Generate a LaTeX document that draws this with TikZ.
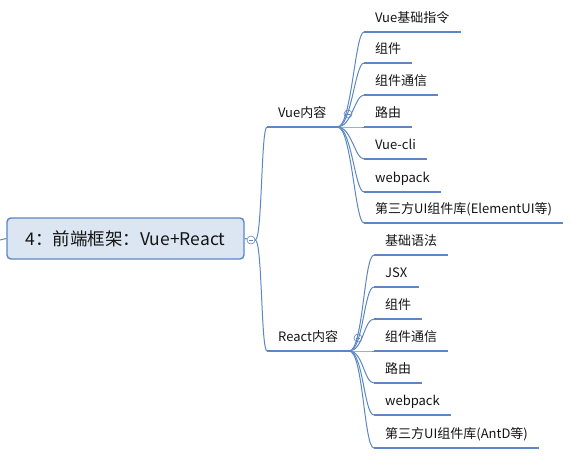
\documentclass[tikz,border=0pt]{standalone}
\usepackage{fontspec}
\setmainfont{Noto Sans CJK SC}
\usepackage{xcolor}
\usepackage{tikz}
\usetikzlibrary{calc}
\definecolor{mmblue}{HTML}{5B87C4}
\definecolor{mmfill}{HTML}{DCE6F2}
\definecolor{mmtext}{HTML}{141414}

\begin{document}
\begin{tikzpicture}[x=1pt, y=-1pt,
        topic/.style={anchor=south west, inner xsep=11pt, inner ysep=0pt, text height=10pt, text depth=9pt,
              font=\fontsize{13}{15}\selectfont, text=mmtext},
        uline/.style={draw=mmblue, line width=2.8pt},
        conn/.style={draw=mmblue, line width=1pt},
        fold/.style={circle, draw=mmblue, fill=white, line width=0.6pt, inner sep=0pt, minimum size=8pt,
              path picture={\draw[mmblue, line width=0.6pt] ([xshift=2pt]path picture bounding box.west)
                  -- ([xshift=-2pt]path picture bounding box.east);}}]
        \useasboundingbox (0,0) rectangle (574,456);

        % central topic
        \node[draw=mmblue, line width=1.4pt, rounded corners=4pt, fill=mmfill, minimum width=237pt,
              minimum height=41pt, font=\fontsize{17.5}{19}\selectfont, text=mmtext] (root) at (125.5,238.5)
              {4：前端框架：Vue+React};
        \coordinate (stub) at (0,240);
        \draw[conn] (stub) -- (root.west);
        \node[fold] (rootfold) at (251,240) {};
        \draw[conn] (root.east) -- (rootfold);

        % main branches
        \node[topic] (vue) at (267,127) {Vue内容};
        \node[topic] (react) at (267,351) {React内容};
        \draw[uline] (vue.south west) -- (vue.south east);
        \draw[uline] (react.south west) -- (react.south east);
        \draw[conn] (rootfold.east) .. controls +(7,0) and +(-6,0) .. (vue.south west);
        \draw[conn] (rootfold.east) .. controls +(7,0) and +(-6,0) .. (react.south west);
        \node[fold] (vuefold) at (348,114) {};
        \node[fold] (reactfold) at (358,338) {};

        % Vue
        \foreach \nm/\y/\txt in {va/32/Vue基础指令, vb/63/组件, vc/95/组件通信, vd/127/路由,
                ve/159/Vue-cli, vf/192/webpack, vg/223/第三方UI组件库(ElementUI等)} {
            \node[topic] (\nm) at (364,\y) {\txt};
            \draw[uline] (\nm.south west) -- (\nm.south east);
            \draw[conn] (vue.south east) .. controls +(14,0) and +(-9,0) .. (\nm.south west);
        }

        % React
        \foreach \nm/\y/\txt in {ra/255/基础语法, rb/287/JSX, rc/319/组件, rd/351/组件通信,
                re/383/路由, rf/415/webpack, rg/448/第三方UI组件库(AntD等)} {
            \node[topic] (\nm) at (374,\y) {\txt};
            \draw[uline] (\nm.south west) -- (\nm.south east);
            \draw[conn] (react.south east) .. controls +(14,0) and +(-10,0) .. (\nm.south west);
        }
    \end{tikzpicture}
\end{document}
